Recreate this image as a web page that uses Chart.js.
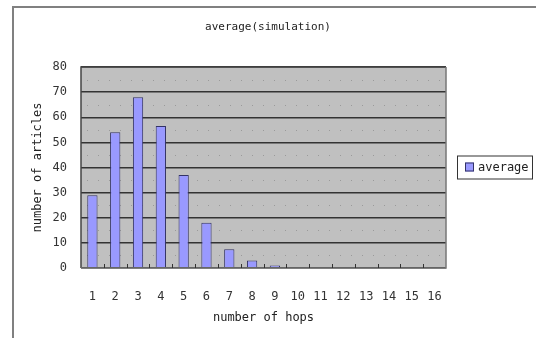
<!DOCTYPE html>
<html>
<head>
<meta charset="utf-8">
<script src="https://cdn.jsdelivr.net/npm/chart.js@4"></script>
<style>
  body { margin: 0; background: #fff; }
  #wrap { width: 536px; height: 338px; }
</style>
</head>
<body>
<div id="wrap"><canvas id="hopsCanvas" width="536" height="338"></canvas></div>
<script>
var hops = ['1','2','3','4','5','6','7','8','9','10','11','12','13','14','15','16'];
var average = [29, 54, 68, 56.5, 37, 18, 7.5, 3, 1, 0, 0, 0, 0, 0, 0, 0];
var yTicks = [0, 10, 20, 30, 40, 50, 60, 70, 80];
var seriesName = 'average';
var chartTitle = 'average(simulation)';

var FONT = '"DejaVu Sans Mono", monospace';

// frame, plot background, title, dotted half lines, little ticks, legend box
var excelLook = {
  id: 'excelLook',
  beforeDraw: function(chart) {
    var c = chart.ctx, a = chart.chartArea;
    c.save();
    c.strokeStyle = '#808080';
    c.lineWidth = 2;
    c.strokeRect(13, 7, 540, 340);
    // title centred on the whole frame, like excel does
    c.fillStyle = '#222';
    c.font = '11px ' + FONT;
    c.textAlign = 'center';
    c.textBaseline = 'middle';
    c.fillText(chartTitle, chart.width / 2, 27);
    c.fillStyle = '#c0c0c0';
    c.fillRect(a.left, a.top, a.right - a.left, a.bottom - a.top);
    // dotted lines halfway between the major ones
    var y = chart.scales.y;
    c.strokeStyle = '#9a9a9a';
    c.lineWidth = 1;
    c.setLineDash([1, 10]);
    for (var i = 0; i < yTicks.length - 1; i++) {
      var py = Math.round(y.getPixelForValue(yTicks[i] + 5)) + 0.5;
      c.beginPath();
      c.moveTo(a.left + 6, py);
      c.lineTo(a.right, py);
      c.stroke();
    }
    c.restore();
  },
  afterDatasetsDraw: function(chart) {
    var c = chart.ctx, a = chart.chartArea, x = chart.scales.x;
    c.save();
    // plot border
    c.strokeStyle = '#444';
    c.lineWidth = 1.5;
    c.beginPath();
    c.moveTo(a.left, a.bottom);
    c.lineTo(a.left, a.top);
    c.lineTo(a.right, a.top);
    c.stroke();
    c.strokeStyle = '#777';
    c.beginPath();
    c.moveTo(a.right, a.top);
    c.lineTo(a.right, a.bottom);
    c.lineTo(a.left, a.bottom);
    c.stroke();
    // small tick marks between categories
    var half = (x.getPixelForValue(1) - x.getPixelForValue(0)) / 2;
    c.strokeStyle = '#333';
    c.lineWidth = 1;
    for (var i = 1; i < hops.length; i++) {
      var px = Math.round(x.getPixelForValue(i) - half) + 0.5;
      c.beginPath();
      c.moveTo(px, a.bottom);
      c.lineTo(px, a.bottom - 4);
      c.stroke();
    }
    // legend
    var lx = a.right + 11, ly = (a.top + a.bottom) / 2 - 1;
    c.fillStyle = '#fff';
    c.fillRect(lx, ly - 11, 75, 23);
    c.strokeStyle = '#333';
    c.lineWidth = 1;
    c.strokeRect(lx + 0.5, ly - 10.5, 75, 23);
    c.fillStyle = '#9999ff';
    c.fillRect(lx + 8, ly - 4, 9, 9);
    c.strokeStyle = '#333366';
    c.strokeRect(lx + 8.5, ly - 3.5, 8, 8);
    c.fillStyle = '#222';
    c.font = '12px ' + FONT;
    c.textBaseline = 'middle';
    c.fillText(seriesName, lx + 21, ly + 1);
    c.restore();
  }
};

new Chart(document.getElementById('hopsCanvas'), {
  type: 'bar',
  data: {
    labels: hops,
    datasets: [{
      label: seriesName,
      data: average,
      backgroundColor: '#9999ff',
      borderColor: '#333366',
      borderWidth: 1,
      barPercentage: 0.45,
      categoryPercentage: 1
    }]
  },
  options: {
    responsive: false,
    animation: false,
    layout: { padding: { left: 30, right: 90, top: 67, bottom: 0 } },
    plugins: {
      legend: { display: false },
      tooltip: { enabled: false },
      title: { display: false }
    },
    scales: {
      x: {
        offset: true,
        grid: { display: false },
        border: { display: false },
        ticks: { color: '#333', font: { family: FONT, size: 12 }, padding: 14, maxRotation: 0, autoSkip: false },
        title: { display: true, text: 'number of hops', color: '#222', font: { family: FONT, size: 12 }, padding: { top: 4, bottom: 13 } },
        afterFit: function(s) { s.height = 70; }
      },
      y: {
        min: 0,
        max: 80,
        afterBuildTicks: function(s) { s.ticks = yTicks.map(function(v) { return { value: v }; }); },
        grid: { color: '#333', lineWidth: 1.5, drawTicks: false },
        border: { display: false },
        ticks: { color: '#333', font: { family: FONT, size: 12 }, padding: 14 },
        title: { display: true, text: 'number of articles', color: '#222', font: { family: FONT, size: 12 }, padding: 1 },
        afterFit: function(s) { s.width = 51; }
      }
    }
  },
  plugins: [excelLook]
});
</script>
</body>
</html>
